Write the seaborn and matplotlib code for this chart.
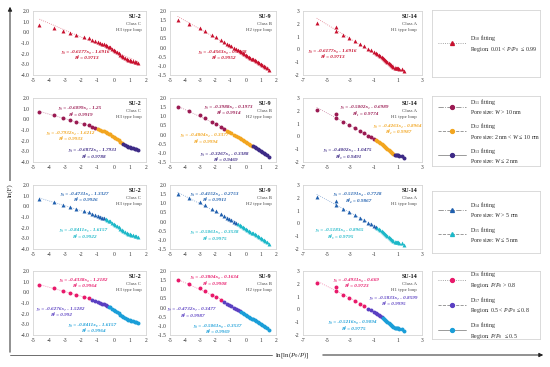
import numpy as np
import pandas as pd
import matplotlib
matplotlib.use("Agg")
import matplotlib.pyplot as plt
import seaborn as sns
from matplotlib.lines import Line2D

# ---------------- data ----------------
samples = ["SU-2", "SU-9", "SU-14"]
classes = ["Class C", "Class B", "Class A"]
loops = ["H3 type loop", "H2 type loop", "H1 type loop"]

su2_x = [-4.6, -3.7, -3.15, -2.7, -2.35, -1.85, -1.55, -1.35, -1.15, -1.0, -0.85, -0.72, -0.6,
         -0.5, -0.4, -0.3, -0.2, -0.1, 0.0, 0.1, 0.2, 0.3, 0.4, 0.5, 0.6, 0.7, 0.8, 0.9, 1.0,
         1.1, 1.2, 1.3, 1.4, 1.5]
su2_y = [0.72, 0.38, 0.10, -0.08, -0.22, -0.42, -0.57, -0.68, -0.80, -0.88, -0.97, -1.05, -1.12,
         -1.18, -1.25, -1.33, -1.42, -1.52, -1.62, -1.73, -1.85, -1.98, -2.10, -2.21, -2.32, -2.42,
         -2.50, -2.57, -2.63, -2.68, -2.72, -2.77, -2.82, -2.88]

su9_x = [-4.5, -3.75, -3.05, -2.7, -2.25, -1.95, -1.65, -1.45, -1.25, -1.1, -0.95, -0.8, -0.65,
         -0.5, -0.4, -0.3, -0.2, -0.1, 0.0, 0.1, 0.2, 0.3, 0.4, 0.5, 0.6, 0.7, 0.8, 0.9, 1.0,
         1.1, 1.2, 1.3, 1.4, 1.55]
su9_y = [1.50, 1.27, 1.05, 0.92, 0.70, 0.57, 0.42, 0.33, 0.22, 0.15, 0.07, 0.0, -0.08,
         -0.15, -0.20, -0.25, -0.30, -0.35, -0.40, -0.45, -0.50, -0.55, -0.60, -0.65, -0.70,
         -0.74, -0.79, -0.84, -0.90, -0.95, -1.00, -1.06, -1.13, -1.23]

su14_x = [-5.85, -4.25, -4.25, -3.6, -3.1, -2.65, -2.25, -1.85, -1.5, -1.25, -1.05, -0.9, -0.75,
          -0.6, -0.5, -0.4, -0.3, -0.2, -0.1, 0.0, 0.1, 0.2, 0.3, 0.4, 0.5, 0.6, 0.7, 0.8, 0.9,
          1.0, 1.1, 1.3, 1.5]
su14_y = [2.10, 1.72, 1.42, 1.15, 0.90, 0.68, 0.46, 0.25, 0.05, -0.08, -0.18, -0.26, -0.35,
          -0.45, -0.52, -0.60, -0.68, -0.75, -0.83, -0.90, -0.98, -1.06, -1.14, -1.22, -1.30,
          -1.37, -1.42, -1.45, -1.47, -1.49, -1.52, -1.56, -1.72]

X = [su2_x, su9_x, su14_x]
Y = [su2_y, su9_y, su14_y]

x_ticks = [[-5, -4, -3, -2, -1, 0, 1, 2], [-5, -4, -3, -2, -1, 0, 1, 2], [-7, -5, -3, -1, 1, 3]]
y_ticks = [[2.0, 1.0, 0.0, -1.0, -2.0, -3.0, -4.0],
           [2.0, 1.5, 1.0, 0.5, 0.0, -0.5, -1.0, -1.5],
           [3, 2, 1, 0, -1, -2]]
y_fmt = ["{:.1f}", "{:.1f}", "{:d}"]

# segment break points in x for each row (row 0: whole range)
breaks = [
    [[], [], []],
    [[-1.05, 0.55], [-1.3, 0.45], [-1.0, 0.65]],
    [[-0.55], [-0.55], [-0.85]],
    [[-1.5, -0.37], [-1.5, -0.37], [-1.5, -0.37]],
]

# fitted equations
eqs = [
    [[("y₀ = -0.6177x₀ - 1.6916", "R² = 0.9713")],
     [("y₀ = -0.4563x₀ - 0.5738", "R² = 0.9952")],
     [("y₀ = -0.6177x₀ - 1.6916", "R² = 0.9713")]],
    [[("y₁ = -0.6099x₁ - 1.25", "R² = 0.9919"), ("y₂ = -0.7932x₂ - 1.6212", "R² = 0.9933"),
      ("y₃ = -0.6872x₃ - 1.7931", "R² = 0.9788")],
     [("y₁ = -0.3988x₁ - 0.1973", "R² = 0.9914"), ("y₂ = -0.4804x₂ - 0.3377", "R² = 0.9994"),
      ("y₃ = -0.3267x₃ - 0.3388", "R² = 0.9469")],
     [("y₁ = -0.5002x₁ - 0.6989", "R²₁ = 0.9774"), ("y₂ = -0.4263x₂ - 0.8964", "R²₂ = 0.9987"),
      ("y₃ = -0.4002x₃ - 1.0475", "R²₃ = 0.9491")]],
    [[("y₄ = -0.4731x₄ - 1.3327", "R² = 0.9926"), ("y₅ = -0.8411x₅ - 1.6157", "R² = 0.9922")],
     [("y₄ = -0.4152x₄ - 0.2753", "R² = 0.9911"), ("y₅ = -0.5061x₅ - 0.3538", "R² = 0.9975")],
     [("y₄ = -0.5191x₄ - 0.7728", "R²₄ = 0.9867"), ("y₅ = -0.5183x₅ - 0.8965", "R²₅ = 0.9795")]],
    [[("y₆ = -0.4338x₆ - 1.2182", "R² = 0.9964"), ("y₇ = -0.6276x₇ - 1.5282", "R² = 0.992"),
      ("y₈ = -0.8411x₈ - 1.6157", "R² = 0.9964")],
     [("y₆ = -0.3804x₆ - 0.1634", "R² = 0.9908"), ("y₇ = -0.4732x₇ - 0.3477", "R² = 0.9987"),
      ("y₈ = -0.5061x₈ - 0.3537", "R² = 0.9969")],
     [("y₆ = -0.4931x₆ - 0.669", "R² = 0.9723"), ("y₇ = -0.5833x₇ - 0.8599", "R² = 0.9995"),
      ("y₈ = -0.5216x₈ - 0.9094", "R² = 0.9775")]],
]

legend_labels = [
    [("10", "Region: 0.01 < $P/P_0$  ≤ 0.99")],
    [("11", "Pore size: $W$ > 10 nm"), ("12", "Pore size: 2 nm < $W$ ≤ 10 nm"), ("13", "Pore size: $W$ ≤ 2 nm")],
    [("14", "Pore size: $W$ > 5 nm"), ("15", "Pore size: $W$ ≤ 5 nm")],
    [("16", "Region: $P/P_0$ > 0.8"), ("17", "Region: 0.5 < $P/P_0$ ≤ 0.8"), ("18", "Region: $P/P_0$  ≤ 0.5")],
]

# ---------------- style ----------------
row_colors = [["#c8102e"],
              ["#9a1a52", "#f2a51f", "#3d2a86"],
              ["#1f5fae", "#1cb8c8"],
              ["#e8196a", "#5a3fc2", "#1a9ed8"]]
row_markers = ["^", "o", "^", "o"]
leg_ls = [[":"], ["-.", "--", "-"], ["-.", "--"], [":", "--", "-"]]

eq_pos = [
    [[(0.47, 0.36)], [(0.50, 0.36)], [(0.25, 0.38)]],
    [[(0.42, 0.84), (0.33, 0.46), (0.53, 0.18)],
     [(0.55, 0.86), (0.33, 0.42), (0.52, 0.13)],
     [(0.52, 0.86), (0.80, 0.57), (0.38, 0.18)]],
    [[(0.46, 0.86), (0.45, 0.29)], [(0.42, 0.86), (0.42, 0.26)], [(0.46, 0.86), (0.31, 0.29)]],
    [[(0.45, 0.86), (0.25, 0.41), (0.53, 0.16)],
     [(0.42, 0.90), (0.21, 0.40), (0.45, 0.14)],
     [(0.45, 0.86), (0.76, 0.58), (0.42, 0.20)]],
]

sns.set_theme(style="white")
plt.rcParams["font.family"] = ["Liberation Serif", "DejaVu Serif"]
plt.rcParams["mathtext.fontset"] = "custom"
plt.rcParams["mathtext.rm"] = "Liberation Serif"
plt.rcParams["mathtext.it"] = "Liberation Serif:italic"
plt.rcParams["mathtext.bf"] = "Liberation Serif:bold"
plt.rcParams["axes.unicode_minus"] = False

W, H = 550, 367
fig = plt.figure(figsize=(5.5, 3.67), dpi=100)
fig.patch.set_facecolor("white")


def rect(l, t, w, h):
    return [l / W, 1 - (t + h) / H, w / W, h / H]


cols = [(33, 113), (170, 106), (303, 119)]
row_tops = [11, 98, 185, 271]
ph = 64
leg_boxes = [(432, 10, 108, 67), (432, 96, 108, 70), (432, 191, 108, 62), (432, 271, 108, 68)]
frame_col = "#d4d4d4"

for r in range(4):
    for s in range(3):
        l, w = cols[s]
        ax = fig.add_axes(rect(l, row_tops[r], w, ph))
        df = pd.DataFrame({"x": X[s], "y": Y[s]})
        if breaks[r][s]:
            seg = np.searchsorted(np.array(breaks[r][s]), df["x"].values, side="right")
        else:
            seg = np.zeros(len(df), int)
        df["seg"] = seg
        for k, c in enumerate(row_colors[r]):
            sub = df[df["seg"] == k]
            if len(sub) == 0:
                continue
            sns.regplot(data=sub, x="x", y="y", scatter=False, ci=None, ax=ax, color=c,
                        line_kws=dict(lw=0.6, ls=(0, (1, 1.5)), alpha=0.55))
            sns.scatterplot(data=sub, x="x", y="y", color=c, marker=row_markers[r], s=8,
                            linewidth=0, ax=ax, zorder=3)
        ax.set_xlim(x_ticks[s][0], x_ticks[s][-1])
        ax.set_ylim(y_ticks[s][-1], y_ticks[s][0])
        ax.set_xticks(x_ticks[s])
        ax.set_xticklabels([str(t) for t in x_ticks[s]])
        ax.set_yticks(y_ticks[s])
        ax.set_yticklabels([y_fmt[s].format(t) for t in y_ticks[s]])
        ax.tick_params(labelsize=4.0, length=0, pad=2.5, labelcolor="#333333")
        ax.set_xlabel("")
        ax.set_ylabel("")
        for sp in ax.spines.values():
            sp.set_color(frame_col)
            sp.set_linewidth(0.6)
        ax.text(0.96, 0.91, samples[s], transform=ax.transAxes, ha="right", va="center",
                fontsize=4.3, fontweight="bold", color="#111111")
        ax.text(0.96, 0.80, classes[s], transform=ax.transAxes, ha="right", va="center",
                fontsize=3.5, color="#444444")
        ax.text(0.96, 0.70, loops[s], transform=ax.transAxes, ha="right", va="center",
                fontsize=3.5, color="#444444")
        for k, (e1, e2) in enumerate(eqs[r][s]):
            px, py = eq_pos[r][s][k]
            c = row_colors[r][k]
            ax.text(px, py, e1, transform=ax.transAxes, ha="center", va="center",
                    fontsize=3.7, color=c, fontweight="bold", fontstyle="italic", zorder=5)
            ax.text(px, py - 0.1, e2, transform=ax.transAxes, ha="center", va="center",
                    fontsize=3.7, color=c, fontweight="bold", fontstyle="italic", zorder=5)

    # legend box
    lx, ly, lw_, lh = leg_boxes[r]
    lax = fig.add_axes(rect(lx, ly, lw_, lh))
    lax.set_xticks([])
    lax.set_yticks([])
    for sp in lax.spines.values():
        sp.set_color(frame_col)
        sp.set_linewidth(0.6)
    handles, labels = [], []
    for k, (sub_, txt) in enumerate(legend_labels[r]):
        handles.append(Line2D([], [], color="#8a8a8a", ls=leg_ls[r][k], lw=0.6,
                              marker=row_markers[r], markersize=2.8,
                              markerfacecolor=row_colors[r][k], markeredgecolor=row_colors[r][k]))
        labels.append("D$_{" + sub_ + "}$ fitting\n" + txt)
    lax.legend(handles, labels, loc="center left", bbox_to_anchor=(0.03, 0.5), frameon=False,
               fontsize=4.2, handlelength=4.8, handletextpad=0.7, labelspacing=0.9,
               numpoints=1, borderaxespad=0)

# outer axis arrows
ov = fig.add_axes([0, 0, 1, 1], zorder=10)
ov.set_xlim(0, W)
ov.set_ylim(H, 0)
ov.axis("off")
ov.patch.set_alpha(0)
ov.annotate("", xy=(10, 4), xytext=(10, 355),
            arrowprops=dict(arrowstyle="-|>", color="#222222", lw=0.7, mutation_scale=6))
ov.text(10, 190, "ln(F)", rotation=90, ha="center", va="center", fontsize=5,
        bbox=dict(fc="white", ec="none", pad=1.5))
ov.plot([10, 272], [355, 355], color="#555555", lw=0.6)
ov.text(292, 355, "ln[ln($P_0$/$P$)]", ha="center", va="center", fontsize=5,
        bbox=dict(fc="white", ec="none", pad=1.0))
ov.annotate("", xy=(546, 355), xytext=(320, 355),
            arrowprops=dict(arrowstyle="-|>", color="#222222", lw=0.7, mutation_scale=6))

fig.savefig("out.png", dpi=100, facecolor="white")
